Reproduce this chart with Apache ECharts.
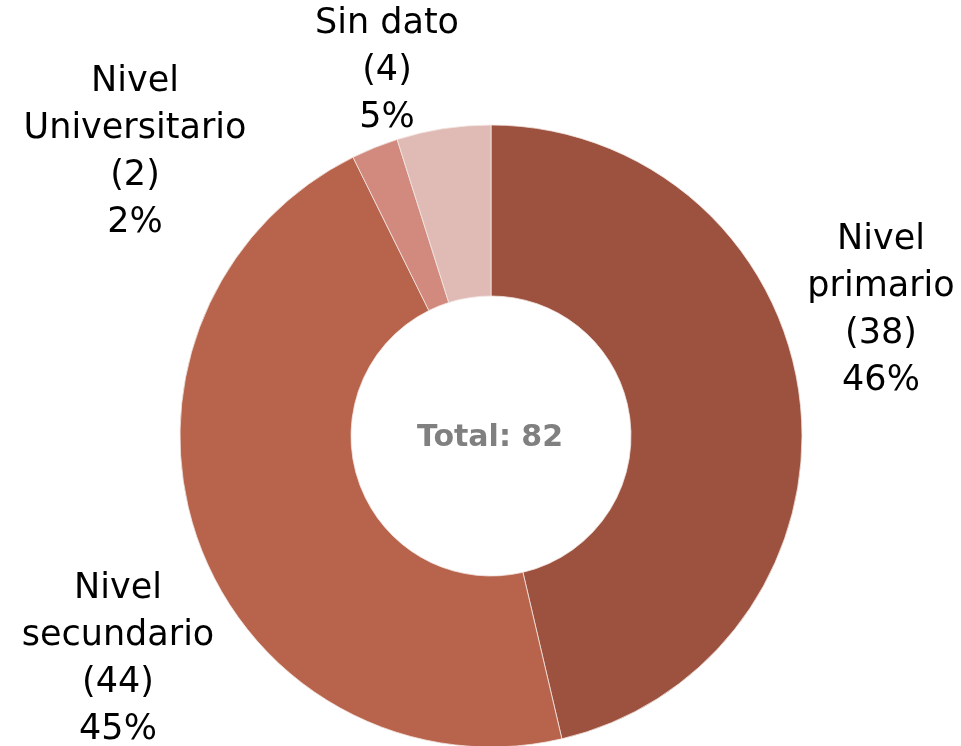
<!DOCTYPE html>
<html><head><meta charset="utf-8">
<script src="https://cdn.jsdelivr.net/npm/echarts@6/dist/echarts.min.js"></script>
<style>html,body{margin:0;padding:0;background:#fff}#c{width:961px;height:746px}</style>
</head><body><div id="c"></div>
<script>
const categories = ['Nivel\nprimario', 'Nivel\nsecundario', 'Nivel\nUniversitario', 'Sin dato'];
const values = [38, 38, 2, 4];
const labelCounts = [38, 44, 2, 4];
const labelPercents = ['46%', '45%', '2%', '5%'];
const colors = ['#9c523f', '#b8634b', '#d18a7d', '#e0bbb6'];
const labelPos = [[881, 310], [118, 659], [135, 152], [387, 71]];

const total = values.reduce((a, b) => a + b, 0);
const chart = echarts.init(document.getElementById('c'));
chart.setOption({
  animation: false,
  series: [{
    type: 'pie',
    center: [491, 436],
    radius: [140, 311],
    startAngle: 90,
    clockwise: true,
    avoidLabelOverlap: false,
    data: categories.map((c, i) => ({ name: c, value: values[i], itemStyle: { color: colors[i] } })),
    itemStyle: { borderColor: '#f3e6e2', borderWidth: 0.8 },
    label: {
      show: true,
      position: 'outside',
      formatter: p => p.name + '\n(' + labelCounts[p.dataIndex] + ')\n' + labelPercents[p.dataIndex],
      fontFamily: 'DejaVu Sans',
      fontWeight: 'normal',
      fontSize: 35,
      lineHeight: 47,
      color: '#000',
      align: 'center'
    },
    labelLine: { show: false },
    labelLayout: p => ({ x: labelPos[p.dataIndex][0], y: labelPos[p.dataIndex][1], align: 'center', verticalAlign: 'middle' })
  }],
  graphic: [{
    type: 'text', x: 490, y: 438,
    style: { text: 'Total: ' + total, fontFamily: 'DejaVu Sans', fontWeight: 'bold', fontSize: 30, fill: '#808080', align: 'center', verticalAlign: 'middle' }
  }]
});
</script></body></html>
